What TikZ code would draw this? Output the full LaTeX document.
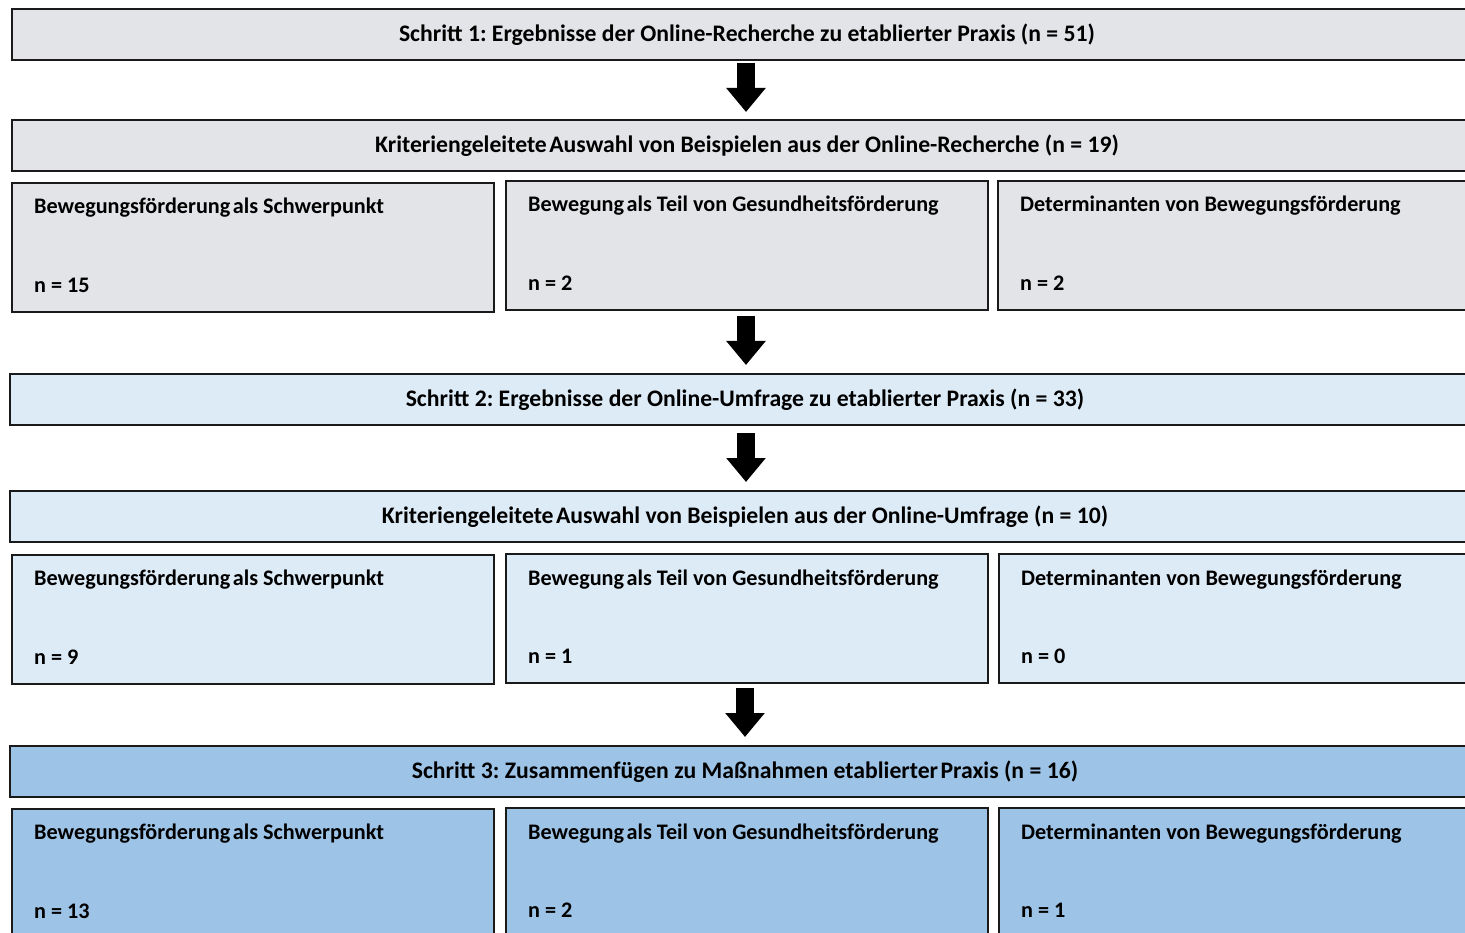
\documentclass[tikz,border=0pt]{standalone}
\usepackage{fontspec}
\setmainfont{Carlito}
\usetikzlibrary{arrows.meta}
\frenchspacing
\definecolor{grayfill}{HTML}{E3E4E8}
\definecolor{lightblue}{HTML}{DDEBF7}
\definecolor{midblue}{HTML}{9DC3E6}
\definecolor{edge}{HTML}{1A1A1A}
\newcommand{\tsp}{\hspace{2.5pt}}
\tikzset{
  bigbox/.style={draw=edge, line width=2pt, rectangle, anchor=north west, minimum width=1470pt, minimum height=51pt, inner sep=0pt},
  subbox/.style={draw=edge, line width=2pt, rectangle, anchor=north west, minimum width=482pt, minimum height=129pt, inner sep=0pt},
  headtxt/.style={font=\fontsize{23.7}{28}\selectfont\bfseries\frenchspacing, text=black},
  subtxt/.style={font=\fontsize{22.2}{26}\selectfont\bfseries\frenchspacing, text=black, anchor=base west, inner sep=0pt},
  blockarrow/.style={line width=18pt, black, -{Triangle[width=38pt,length=24pt]}}
}
\begin{document}
\begin{tikzpicture}[x=1pt,y=-1pt]
\useasboundingbox (0,0) rectangle (1465,933);
\clip (0,0) rectangle (1465,933);
\fill[white] (0,0) rectangle (1465,933);

% Step 1
\node[bigbox, fill=grayfill] (s1) at (11,8) {};
\node[headtxt] (s1t) at (s1.center) {Schritt 1: Ergebnisse der Online-Recherche zu etablierter Praxis (n = 51)};
\node[bigbox, fill=grayfill] (k1) at (11,119) {};
\node[headtxt] (k1t) at (k1.center) {Kriteriengeleitete\tsp Auswahl von Beispielen aus der Online-Recherche (n = 19)};
\node[subbox, fill=grayfill] (a1) at (11,182) {};
\node[subbox, fill=grayfill] (b1) at (505,180) {};
\node[subbox, fill=grayfill, minimum width=490pt] (c1) at (997,180) {};
\node[subtxt] (a1t) at (34,214) {Bewegungsförderung\tsp als Schwerpunkt};
\node[subtxt] (a1n) at (34,293) {n = 15};
\node[subtxt] (b1t) at (528,212) {Bewegung\tsp als Teil von Gesundheitsförderung};
\node[subtxt] (b1n) at (528,291) {n = 2};
\node[subtxt] (c1t) at (1020,212) {Determinanten von Bewegungsförderung};
\node[subtxt] (c1n) at (1020,291) {n = 2};

% Step 2
\node[bigbox, fill=lightblue] (s2) at (9,373) {};
\node[headtxt] (s2t) at (s2.center) {Schritt 2: Ergebnisse der Online-Umfrage zu etablierter Praxis (n = 33)};
\node[bigbox, fill=lightblue] (k2) at (9,490) {};
\node[headtxt] (k2t) at (k2.center) {Kriteriengeleitete\tsp Auswahl von Beispielen aus der Online-Umfrage (n = 10)};
\node[subbox, fill=lightblue] (a2) at (11,554) {};
\node[subbox, fill=lightblue] (b2) at (505,553) {};
\node[subbox, fill=lightblue, minimum width=490pt] (c2) at (998,553) {};
\node[subtxt] (a2t) at (34,585) {Bewegungsförderung\tsp als Schwerpunkt};
\node[subtxt] (a2n) at (34,664) {n = 9};
\node[subtxt] (b2t) at (528,585) {Bewegung\tsp als Teil von Gesundheitsförderung};
\node[subtxt] (b2n) at (528,663) {n = 1};
\node[subtxt] (c2t) at (1021,585) {Determinanten von Bewegungsförderung};
\node[subtxt] (c2n) at (1021,663) {n = 0};

% Step 3
\node[bigbox, fill=midblue] (s3) at (9,745) {};
\node[headtxt] (s3t) at (s3.center) {Schritt 3: Zusammenfügen zu Maßnahmen etablierter\tsp Praxis (n = 16)};
\node[subbox, fill=midblue] (a3) at (11,808) {};
\node[subbox, fill=midblue] (b3) at (505,807) {};
\node[subbox, fill=midblue, minimum width=490pt] (c3) at (998,807) {};
\node[subtxt] (a3t) at (34,839) {Bewegungsförderung\tsp als Schwerpunkt};
\node[subtxt] (a3n) at (34,918) {n = 13};
\node[subtxt] (b3t) at (528,839) {Bewegung\tsp als Teil von Gesundheitsförderung};
\node[subtxt] (b3n) at (528,917) {n = 2};
\node[subtxt] (c3t) at (1021,839) {Determinanten von Bewegungsförderung};
\node[subtxt] (c3n) at (1021,917) {n = 1};

% Arrows
\coordinate (p1a) at (746,63);  \coordinate (p1b) at (746,112);
\coordinate (p2a) at (746,316); \coordinate (p2b) at (746,365);
\coordinate (p3a) at (746,433); \coordinate (p3b) at (746,482);
\coordinate (p4a) at (745,688); \coordinate (p4b) at (745,737);
\draw[blockarrow] (p1a) -- (p1b);
\draw[blockarrow] (p2a) -- (p2b);
\draw[blockarrow] (p3a) -- (p3b);
\draw[blockarrow] (p4a) -- (p4b);
\end{tikzpicture}
\end{document}
